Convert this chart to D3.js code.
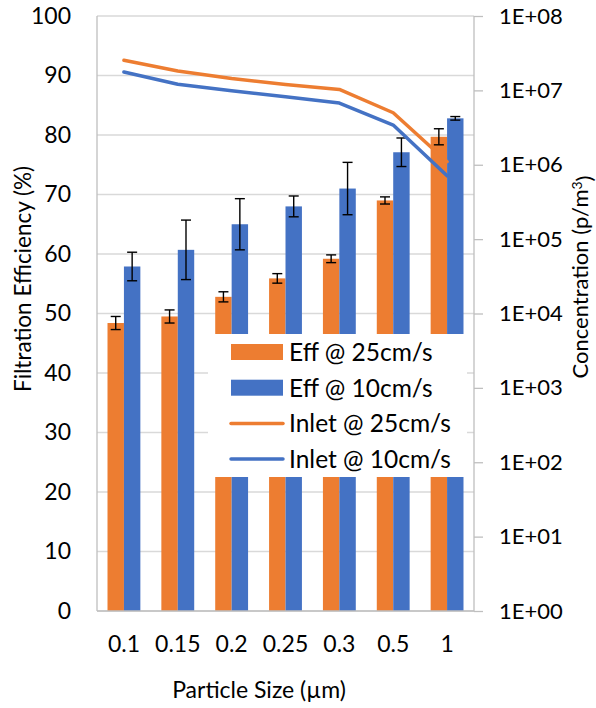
<!DOCTYPE html>
<html>
<head>
<meta charset="utf-8">
<script src="https://cdn.jsdelivr.net/npm/d3@7"></script>
<style>
  body { margin: 0; background: #fff; }
  svg text { font-family: Lato, "Open Sans", sans-serif; fill: #000; }
</style>
</head>
<body>
<div id="chart"></div>
<script>
// particle sizes (µm)
const sizes = ["0.1", "0.15", "0.2", "0.25", "0.3", "0.5", "1"];

// filtration efficiency (%) and error half-widths
const eff25 = [48.4, 49.5, 52.8, 55.9, 59.2, 69.0, 79.7];
const err25 = [1.1, 1.1, 0.85, 0.8, 0.65, 0.6, 1.35];
const eff10 = [57.9, 60.7, 65.0, 68.0, 71.0, 77.1, 82.8];
const err10 = [2.4, 5.0, 4.3, 1.75, 4.4, 2.4, 0.3];

// inlet concentration (p/m3)
const inlet25 = [2.54e7, 1.82e7, 1.44e7, 1.2e7, 1.03e7, 5.0e6, 1.1e6];
const inlet10 = [1.77e7, 1.21e7, 9.9e6, 8.2e6, 6.76e6, 3.42e6, 7.1e5];

const leftTicks = [0, 10, 20, 30, 40, 50, 60, 70, 80, 90, 100];
const rightTicks = [1e0, 1e1, 1e2, 1e3, 1e4, 1e5, 1e6, 1e7, 1e8];

const ORANGE = "#ED7D31", BLUE = "#4472C4";

const W = 596, H = 708;
const m = {top: 16, right: 122, bottom: 97, left: 97};
const iw = W - m.left - m.right, ih = H - m.top - m.bottom;

const svg = d3.select("#chart").append("svg")
    .attr("width", W)
    .attr("height", H);

const g = svg.append("g").attr("transform", `translate(${m.left},${m.top})`);

const x0 = d3.scaleBand().domain(sizes).range([0, iw])
    .paddingInner(0.39).paddingOuter(0.195);
const x1 = d3.scaleBand().domain(["25", "10"]).range([0, x0.bandwidth()]);
const y = d3.scaleLinear().domain([0, 100]).range([ih, 0]);
const yR = d3.scaleLog().domain([1, 1e8]).range([ih, 0]);

// gridlines
g.append("g")
    .selectAll("line")
    .data(leftTicks)
    .join("line")
    .attr("x1", 0).attr("x2", iw)
    .attr("y1", d => y(d)).attr("y2", d => y(d))
    .attr("stroke", "#d9d9d9")
    .attr("stroke-width", 1.3);

// left axis labels
const yAxis = d3.axisLeft(y).tickValues(leftTicks).tickSize(0).tickPadding(26);
g.append("g").call(yAxis)
    .call(a => a.select(".domain").remove())
    .selectAll("text").style("font-size", "23px");

// right axis
const yAxisR = d3.axisRight(yR).tickValues(rightTicks).tickSize(9).tickPadding(16)
    .tickFormat(d => "1E+" + String(Math.round(Math.log10(d))).padStart(2, "0"));
g.append("g").attr("transform", `translate(${iw},0)`).call(yAxisR)
    .call(a => a.select(".domain").remove())
    .call(a => a.selectAll("line").attr("stroke", "#bfbfbf").attr("stroke-width", 1.3))
    .selectAll("text").style("font-size", "22px");

// bottom axis labels
const xAxis = d3.axisBottom(x0).tickSize(0).tickPadding(25);
g.append("g").attr("transform", `translate(0,${ih})`).call(xAxis)
    .call(a => a.select(".domain").remove())
    .selectAll("text").style("font-size", "23px");

// bars
const barSeries = [
    {key: "25", vals: eff25, errs: err25, color: ORANGE},
    {key: "10", vals: eff10, errs: err10, color: BLUE}
];

barSeries.forEach(s => {
    g.append("g")
        .selectAll("rect")
        .data(sizes)
        .join("rect")
        .attr("x", (d) => x0(d) + x1(s.key))
        .attr("y", (d, i) => y(s.vals[i]))
        .attr("width", x1.bandwidth())
        .attr("height", (d, i) => ih - y(s.vals[i]))
        .attr("fill", s.color);
});

// axis lines
g.append("line").attr("x1", 0).attr("x2", 0).attr("y1", 0).attr("y2", ih)
    .attr("stroke", "#bfbfbf").attr("stroke-width", 1.3);
g.append("line").attr("x1", iw).attr("x2", iw).attr("y1", 0).attr("y2", ih)
    .attr("stroke", "#bfbfbf").attr("stroke-width", 1.3);
g.append("line").attr("x1", 0).attr("x2", iw).attr("y1", ih).attr("y2", ih)
    .attr("stroke", "#bfbfbf").attr("stroke-width", 1.3);

// error bars
barSeries.forEach(s => {
    const eg = g.append("g").attr("stroke", "#000").attr("stroke-width", 1.4);
    sizes.forEach((d, i) => {
        const cx = x0(d) + x1(s.key) + x1.bandwidth() / 2;
        const hi = y(s.vals[i] + s.errs[i]), lo = y(s.vals[i] - s.errs[i]);
        eg.append("line").attr("x1", cx).attr("x2", cx).attr("y1", hi).attr("y2", lo);
        eg.append("line").attr("x1", cx - 5).attr("x2", cx + 5).attr("y1", hi).attr("y2", hi);
        eg.append("line").attr("x1", cx - 5).attr("x2", cx + 5).attr("y1", lo).attr("y2", lo);
    });
});

// inlet lines (right axis)
const line = d3.line()
    .x((d, i) => x0(sizes[i]) + x0.bandwidth() / 2)
    .y(d => yR(d));

[[inlet25, ORANGE], [inlet10, BLUE]].forEach(([vals, color]) => {
    g.append("path")
        .datum(vals)
        .attr("d", line)
        .attr("fill", "none")
        .attr("stroke", color)
        .attr("stroke-width", 3.5)
        .attr("stroke-linejoin", "round")
        .attr("stroke-linecap", "round");
});

// legend
const legendItems = [
    {label: "Eff @ 25cm/s", color: ORANGE, type: "bar"},
    {label: "Eff @ 10cm/s", color: BLUE, type: "bar"},
    {label: "Inlet @ 25cm/s", color: ORANGE, type: "line"},
    {label: "Inlet @ 10cm/s", color: BLUE, type: "line"}
];
const lg = svg.append("g").attr("transform", "translate(208,334)");
lg.append("rect").attr("width", 259).attr("height", 143).attr("fill", "#fff");
legendItems.forEach((it, i) => {
    const cy = 18 + i * 35.7;
    if (it.type === "bar") {
        lg.append("rect").attr("x", 23).attr("y", cy - 8).attr("width", 52).attr("height", 16)
            .attr("fill", it.color);
    } else {
        lg.append("line").attr("x1", 23).attr("x2", 75).attr("y1", cy).attr("y2", cy)
            .attr("stroke", it.color).attr("stroke-width", 3.5).attr("stroke-linecap", "round");
    }
    lg.append("text").attr("x", 81).attr("y", cy).attr("dy", "0.36em")
        .style("font-size", "24.5px").text(it.label);
});

// axis titles
svg.append("text")
    .attr("transform", "translate(23,279) rotate(-90)")
    .attr("text-anchor", "middle").attr("dy", "0.36em")
    .style("font-size", "22.5px")
    .text("Filtration Efficiency (%)");

const rt = svg.append("text")
    .attr("transform", "translate(580,277) rotate(-90)")
    .attr("text-anchor", "middle").attr("dy", "0.36em")
    .style("font-size", "22px");
rt.append("tspan").text("Concentration (p/m");
rt.append("tspan").attr("dy", "-0.45em").style("font-size", "14px").text("3");
rt.append("tspan").attr("dy", "0.45em").text(")");

svg.append("text")
    .attr("x", 259).attr("y", 690)
    .attr("text-anchor", "middle").attr("dy", "0.36em")
    .style("font-size", "23px")
    .text("Particle Size (µm)");
</script>
</body>
</html>
